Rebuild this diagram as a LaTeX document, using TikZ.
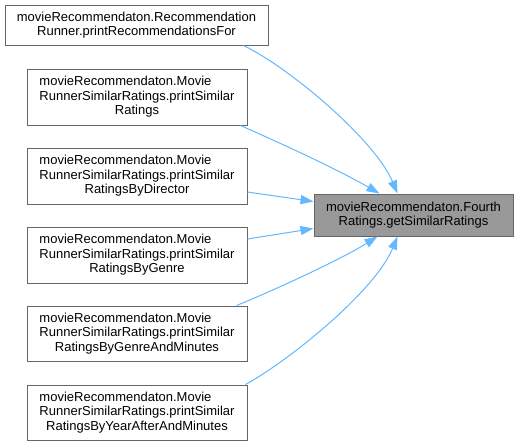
\documentclass[tikz,border=0pt]{standalone}
\usepackage{fontspec}
\setmainfont{Liberation Sans}
\usetikzlibrary{arrows.meta}
\definecolor{edgeblue}{HTML}{63B8FF}
\definecolor{boxline}{HTML}{666666}
\definecolor{targetfill}{HTML}{999999}
\newlength\padlen
\newcommand\padl[2]{\settowidth{\padlen}{#2}\makebox[\padlen][l]{#1}}
\begin{document}
\begin{tikzpicture}[x=1pt,y=-1pt,
  fnbox/.style={draw=boxline, line width=1pt, fill=white, rectangle, inner sep=0pt,
    align=center, font=\fontsize{13}{14.5}\selectfont, text=black},
  tgt/.style={fnbox, fill=targetfill},
  edge/.style={draw=edgeblue, line width=1pt, -{Triangle[length=13pt,width=9pt,fill=edgeblue]}}]
\useasboundingbox (0,0) rectangle (519,445);
\fill[white] (0,0) rectangle (519,445);

\node[fnbox, minimum width=263pt, minimum height=40pt] (b1) at (136.5,25)
  {\padl{movieRecommendaton.Recommendation}{movieRecommendaton.Recommendation}\\Runner.printRecommendationsFor};
\node[fnbox, minimum width=220pt, minimum height=56pt] (b2) at (137,97)
  {\padl{movieRecommendaton.Movie}{RunnerSimilarRatings.printSimilar}\\RunnerSimilarRatings.printSimilar\\Ratings};
\node[fnbox, minimum width=220pt, minimum height=56pt] (b3) at (137,176)
  {\padl{movieRecommendaton.Movie}{RunnerSimilarRatings.printSimilar}\\RunnerSimilarRatings.printSimilar\\RatingsByDirector};
\node[fnbox, minimum width=220pt, minimum height=56pt] (b4) at (137,255)
  {\padl{movieRecommendaton.Movie}{RunnerSimilarRatings.printSimilar}\\RunnerSimilarRatings.printSimilar\\RatingsByGenre};
\node[fnbox, minimum width=220pt, minimum height=55pt] (b5) at (137,333.5)
  {\padl{movieRecommendaton.Movie}{RunnerSimilarRatings.printSimilar}\\RunnerSimilarRatings.printSimilar\\RatingsByGenreAndMinutes};
\node[fnbox, minimum width=220pt, minimum height=55pt] (b6) at (137,412.5)
  {\padl{movieRecommendaton.Movie}{RunnerSimilarRatings.printSimilar}\\RunnerSimilarRatings.printSimilar\\RatingsByYearAfterAndMinutes};

\node[tgt, minimum width=199pt, minimum height=42pt] (t) at (413.5,215)
  {movieRecommendaton.Fourth\\Ratings.getSimilarRatings};

\draw[edge] ([xshift=-25pt]b1.south east) .. controls (290,68) and (375,140) .. ([xshift=84pt]t.north west);
\draw[edge] ([xshift=-7pt]b2.south east) .. controls (280,143) and (335,168) .. ([xshift=66pt]t.north west);
\draw[edge] ([yshift=-16pt]b3.east) -- ([yshift=-8pt]t.north west);
\draw[edge] ([yshift=16pt]b4.east) -- ([yshift=8pt]t.south west);
\draw[edge] ([xshift=-11pt]b5.north east) .. controls (270,292) and (340,260) .. ([xshift=64pt]t.south west);
\draw[edge] ([xshift=-2pt]b6.north east) .. controls (290,360) and (375,291) .. ([xshift=84pt]t.south west);
\end{tikzpicture}
\end{document}
